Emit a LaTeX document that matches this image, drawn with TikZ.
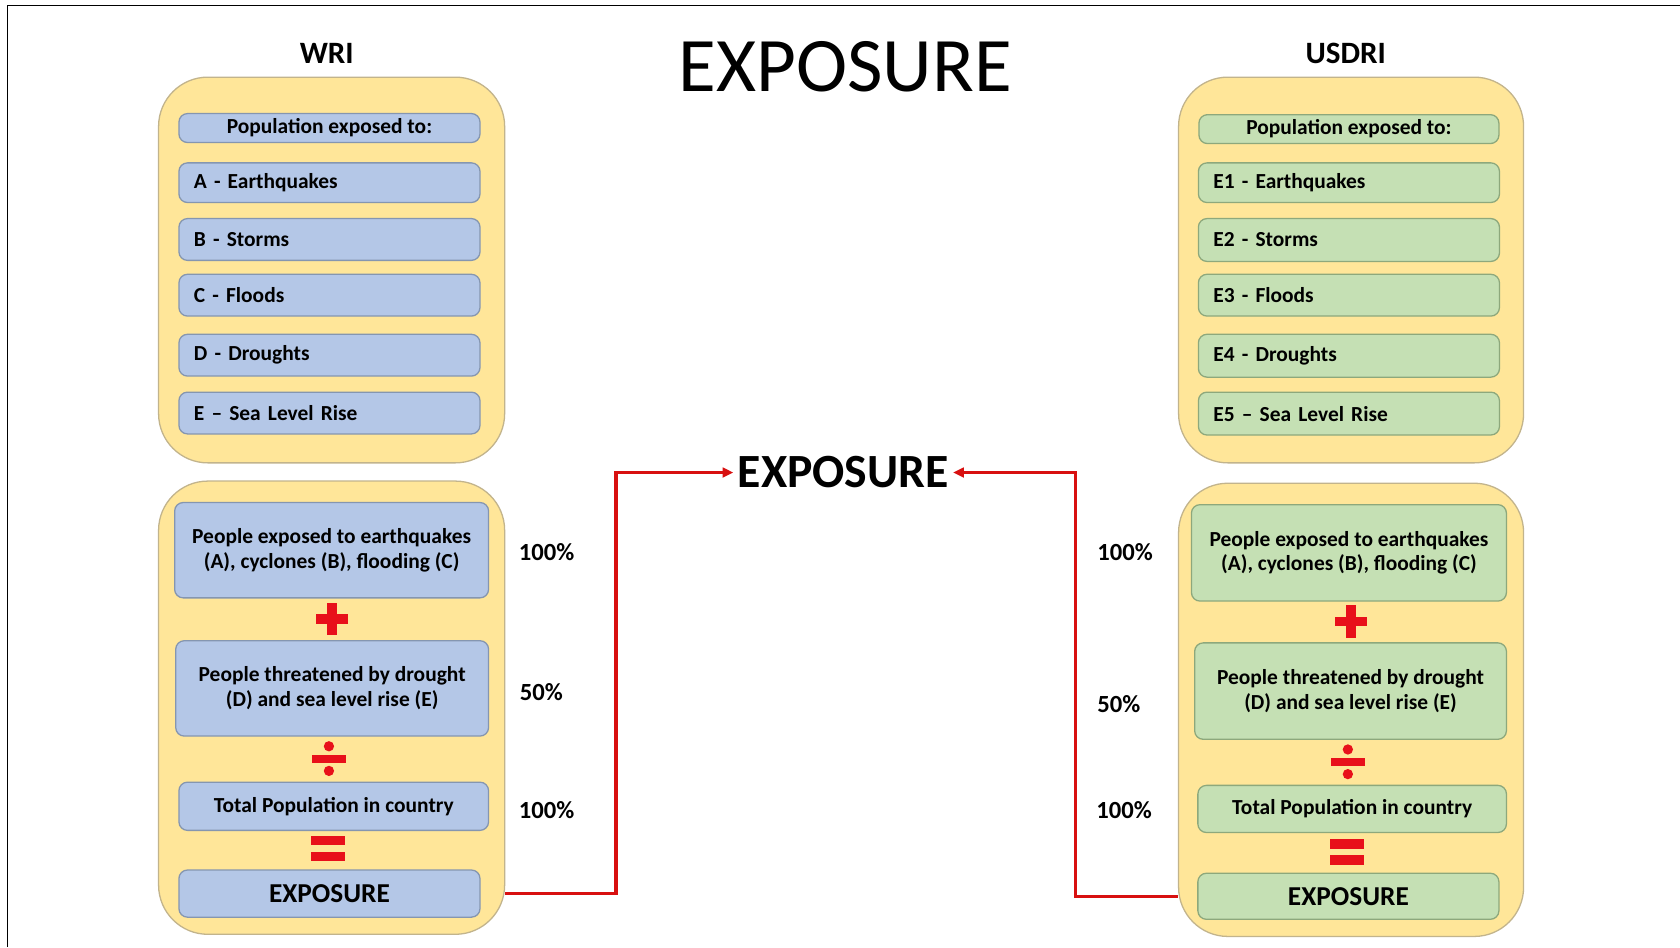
\documentclass[tikz,border=0pt]{standalone}
\usepackage{fontspec}
\setmainfont{Carlito}
\usetikzlibrary{arrows.meta}

\definecolor{panelfill}{HTML}{FFE699}
\definecolor{paneldraw}{HTML}{C2B48C}
\definecolor{bluefill}{HTML}{B4C7E7}
\definecolor{bluedraw}{HTML}{8596B0}
\definecolor{greenfill}{HTML}{C5E0B4}
\definecolor{greendraw}{HTML}{8DA87C}
\definecolor{opred}{HTML}{E8101A}
\definecolor{linkred}{HTML}{D81010}

\tikzset{
  sz/.style 2 args={minimum width=#1, minimum height=#2},
  panel/.style={draw=paneldraw, fill=panelfill, line width=1.2pt, rounded corners=46pt, inner sep=0pt},
  wbox/.style={draw=bluedraw, fill=bluefill, line width=1.2pt, rounded corners=8pt},
  ubox/.style={draw=greendraw, fill=greenfill, line width=1.2pt, rounded corners=8pt},
  ctext/.style={font=\fontsize{20}{23}\selectfont\bfseries, align=center, inner sep=0pt},
  ltext/.style={font=\fontsize{20}{23}\selectfont\bfseries, align=left, text width=253pt, inner xsep=14pt, inner ysep=0pt},
  restext/.style={font=\fontsize{25.5}{28}\selectfont\bfseries, inner sep=0pt},
  pct/.style={font=\fontsize{23}{26}\selectfont\bfseries, anchor=west, inner sep=0pt},
  head/.style={font=\fontsize{29}{32}\selectfont\bfseries, inner sep=0pt},
  link/.style={draw=linkred, line width=3.2pt, -{Triangle[length=10pt,width=9pt]}},
  opadd/.pic={
    \fill[opred] (-15,-4.5) rectangle (15,4.5);
    \fill[opred] (-4.5,-15) rectangle (4.5,15);
  },
  opdiv/.pic={
    \fill[opred] (-16,-3.8) rectangle (16,3.8);
    \fill[opred] (0,-11.5) circle (4.8pt);
    \fill[opred] (0,11.5) circle (4.8pt);
  },
  opeq/.pic={
    \fill[opred] (-16,-12) rectangle (16,-3);
    \fill[opred] (-16,3) rectangle (16,12);
  }
}

\begin{document}
\begin{tikzpicture}[x=1pt, y=-1pt]
\useasboundingbox (0,0) rectangle (1568,884);
\fill[white] (0,0) rectangle (1568,884);

% frame
\draw[line width=1.6pt] (7,884) -- (7,5) -- (1568,5);

% titles
\node[font=\fontsize{72}{82}\selectfont, inner sep=0pt] (title) at (789,62) {EXPOSURE};
\node[head] (wri) at (305,50) {WRI};
\node[head] (usdri) at (1256,50) {USDRI};

% ---------------- WRI column ----------------
\node[panel, sz={323pt}{360pt}] (wtop) at (309.5,252) {};
\node[wbox, ctext, sz={281pt}{27pt}] (whead) at (307.5,119.5) {Population exposed to:};
\node[wbox, ltext, sz={281pt}{37pt}] (wa) at (307.5,170.5) {A - Earthquakes};
\node[wbox, ltext, sz={281pt}{39pt}] (wb) at (307.5,223.5) {B - Storms};
\node[wbox, ltext, sz={281pt}{39pt}] (wc) at (307.5,275.5) {C - Floods};
\node[wbox, ltext, sz={281pt}{39pt}] (wd) at (307.5,331.5) {D - Droughts};
\node[wbox, ltext, sz={281pt}{39pt}] (we) at (307.5,385.5) {E -- Sea Level Rise};

\node[panel, sz={323pt}{423pt}] (wbot) at (309.5,660.5) {};
\node[wbox, ctext, sz={293pt}{89pt}] (wsum1) at (309.5,513.5) {People exposed to earthquakes\\(A), cyclones (B), flooding (C)};
\pic at (310,578) {opadd};
\node[wbox, ctext, sz={292pt}{89pt}] (wsum2) at (310,642.5) {People threatened by drought\\(D) and sea level rise (E)};
\pic at (307,708) {opdiv};
\node[wbox, ctext, sz={289pt}{45pt}] (wtot) at (311.5,752.5) {Total Population in country};
\pic at (306,792) {opeq};
\node[wbox, restext, sz={281pt}{44pt}] (wres) at (307.5,834) {EXPOSURE};

\node[pct] (wp1) at (484,515) {100\%};
\node[pct] (wp2) at (485,646) {50\%};
\node[pct] (wp3) at (484,756) {100\%};

% ---------------- USDRI column ----------------
\node[panel, sz={322pt}{360pt}] (utop) at (1261,252) {};
\node[ubox, ctext, sz={280pt}{27pt}] (uhead) at (1259,120.5) {Population exposed to:};
\node[ubox, ltext, sz={280pt}{37pt}] (ue1) at (1259,170.5) {E1 - Earthquakes};
\node[ubox, ltext, sz={280pt}{40pt}] (ue2) at (1259,224) {E2 - Storms};
\node[ubox, ltext, sz={280pt}{39pt}] (ue3) at (1259,275.5) {E3 - Floods};
\node[ubox, ltext, sz={280pt}{40pt}] (ue4) at (1259,332) {E4 - Droughts};
\node[ubox, ltext, sz={280pt}{40pt}] (ue5) at (1259,386) {E5 -- Sea Level Rise};

\node[panel, sz={322pt}{423pt}] (ubot) at (1261,662.5) {};
\node[ubox, ctext, sz={294pt}{90pt}] (usum1) at (1259,516) {People exposed to earthquakes\\(A), cyclones (B), flooding (C)};
\pic at (1261,580) {opadd};
\node[ubox, ctext, sz={291pt}{90pt}] (usum2) at (1260.5,645) {People threatened by drought\\(D) and sea level rise (E)};
\pic at (1258,711) {opdiv};
\node[ubox, ctext, sz={288pt}{44pt}] (utot) at (1262,755) {Total Population in country};
\pic at (1257,795) {opeq};
\node[ubox, restext, sz={281pt}{43pt}] (ures) at (1258.5,836.5) {EXPOSURE};

\node[pct] (up1) at (1024,515) {100\%};
\node[pct] (up2) at (1024,657) {50\%};
\node[pct] (up3) at (1023,756) {100\%};

% ---------------- combined result ----------------
\node[font=\fontsize{44.5}{50}\selectfont\bfseries, inner xsep=4pt, inner ysep=0pt] (mid) at (787,441) {EXPOSURE};

\coordinate (lbend) at (575,441);
\coordinate (rbend) at (1004,441);
\draw[link] (wbot.east |- wres.center) -| (lbend) -- (mid.west);
\draw[link] (ubot.west |- ures.center) -| (rbend) -- (mid.east);
\end{tikzpicture}
\end{document}
